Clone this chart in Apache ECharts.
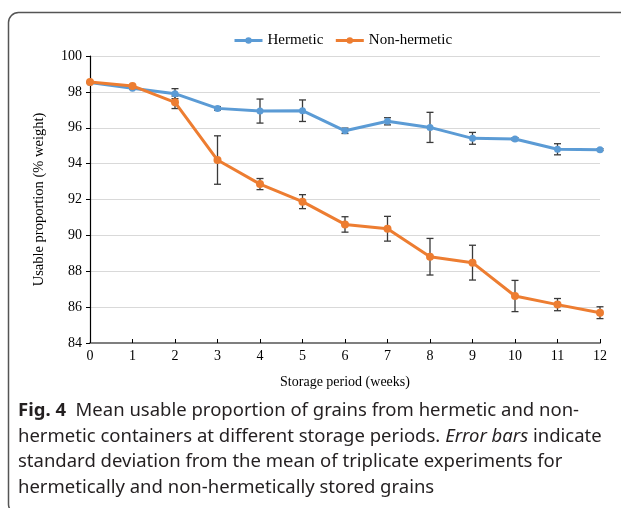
<!DOCTYPE html>
<html>
<head>
<meta charset="utf-8">
<script src="https://cdn.jsdelivr.net/npm/echarts@6/dist/echarts.min.js"></script>
<style>
  html, body { margin: 0; padding: 0; background: #fff; }
  #chart { width: 621px; height: 508px; }
</style>
</head>
<body>
<div id="chart"></div>
<script>
const weeks = [0, 1, 2, 3, 4, 5, 6, 7, 8, 9, 10, 11, 12]
const hermetic = [98.52, 98.2, 97.9, 97.08, 96.93, 96.95, 95.83, 96.36, 96.02, 95.41, 95.37, 94.8, 94.78]
const hermeticSd = [0, 0.05, 0.28, 0.1, 0.67, 0.6, 0.15, 0.2, 0.84, 0.33, 0.08, 0.31, 0.05]
const nonHermetic = [98.55, 98.33, 97.42, 94.2, 92.86, 91.88, 90.61, 90.37, 88.81, 88.48, 86.62, 86.14, 85.69]
const nonHermeticSd = [0, 0.05, 0.35, 1.35, 0.31, 0.39, 0.43, 0.69, 1.02, 0.97, 0.87, 0.34, 0.33]
const yTicks = [84, 86, 88, 90, 92, 94, 96, 98, 100]

const serif = "Liberation Serif"
const sans = "Noto Sans"

function points(vals) {
  return weeks.map((w, i) => [w, vals[i]])
}

function errData(vals, sd) {
  return weeks.map((w, i) => [w, vals[i] - sd[i], vals[i] + sd[i]])
}

function renderErr(params, api) {
  const x = api.value(0)
  const lo = api.coord([x, api.value(1)])
  const hi = api.coord([x, api.value(2)])
  const cap = 3.5
  const style = { stroke: "#3a3a3a", lineWidth: 1.3 }
  return {
    type: "group",
    children: [
      { type: "line", shape: { x1: lo[0], y1: lo[1], x2: hi[0], y2: hi[1] }, style },
      { type: "line", shape: { x1: lo[0] - cap, y1: lo[1], x2: lo[0] + cap, y2: lo[1] }, style },
      { type: "line", shape: { x1: hi[0] - cap, y1: hi[1], x2: hi[0] + cap, y2: hi[1] }, style },
    ],
  }
}

const chart = echarts.init(document.getElementById("chart"))

chart.setOption({
  animation: false,
  textStyle: { fontFamily: serif },
  legend: {
    top: 28,
    left: 228,
    itemWidth: 28,
    itemHeight: 8,
    itemGap: 11,
    lineStyle: { width: 3 },
    textStyle: { fontFamily: serif, fontSize: 15, color: "#000" },
    data: ["Hermetic", "Non-hermetic"],
  },
  grid: { left: 90, right: 21, top: 56, bottom: 165 },
  xAxis: {
    type: "value",
    min: 0,
    max: 12,
    interval: 1,
    name: "Storage period (weeks)",
    nameLocation: "middle",
    nameGap: 32,
    nameTextStyle: { fontFamily: serif, fontSize: 14, color: "#000" },
    axisLine: { lineStyle: { color: "#7f7f7f", width: 2 } },
    axisTick: { inside: true, length: 4, lineStyle: { color: "#000" } },
    axisLabel: { color: "#000", fontSize: 14, fontFamily: serif, margin: 6 },
    splitLine: { show: false },
  },
  yAxis: {
    type: "value",
    min: yTicks[0],
    max: yTicks[yTicks.length - 1],
    interval: 2,
    name: "Usable proportion (% weight)",
    nameLocation: "middle",
    nameGap: 43,
    nameTextStyle: { fontFamily: serif, fontSize: 14.5, color: "#000" },
    axisLine: { show: true, lineStyle: { color: "#000", width: 1.2 } },
    axisTick: { show: true, length: 4, lineStyle: { color: "#000" } },
    axisLabel: { color: "#000", fontSize: 14, fontFamily: serif, margin: 8 },
    splitLine: { lineStyle: { color: "#d9d9d9", width: 1.2 } },
  },
  series: [
    {
      type: "custom",
      renderItem: renderErr,
      data: errData(hermetic, hermeticSd),
      z: 1,
      silent: true,
    },
    {
      type: "custom",
      renderItem: renderErr,
      data: errData(nonHermetic, nonHermeticSd),
      z: 1,
      silent: true,
    },
    {
      name: "Hermetic",
      type: "line",
      data: points(hermetic),
      symbol: "circle",
      symbolSize: 7,
      lineStyle: { color: "#5b9bd5", width: 3 },
      itemStyle: { color: "#5b9bd5" },
      z: 3,
    },
    {
      name: "Non-hermetic",
      type: "line",
      data: points(nonHermetic),
      symbol: "circle",
      symbolSize: 8,
      lineStyle: { color: "#ed7d31", width: 3 },
      itemStyle: { color: "#ed7d31" },
      z: 4,
    },
  ],
  graphic: [
    {
      type: "rect",
      shape: { x: 8.5, y: 12.5, width: 700, height: 500, r: [10, 0, 0, 8] },
      style: { fill: "none", stroke: "#555", lineWidth: 1.5 },
      silent: true,
    },
    {
      type: "text",
      left: 18,
      top: 398,
      style: {
        text: "{b|Fig. 4}  Mean usable proportion of grains from hermetic and non-\nhermetic containers at different storage periods. {i|Error bars} indicate\nstandard deviation from the mean of triplicate experiments for\nhermetically and non-hermetically stored grains",
        fontFamily: sans,
        fontSize: 18.5,
        lineHeight: 25.5,
        fill: "#231f20",
        rich: {
          b: { fontFamily: sans, fontSize: 18.5, fontWeight: "bold", fill: "#231f20", lineHeight: 25.5 },
          i: { fontFamily: sans, fontSize: 18.5, fontStyle: "italic", fill: "#231f20", lineHeight: 25.5 },
        },
      },
    },
  ],
})
</script>
</body>
</html>
